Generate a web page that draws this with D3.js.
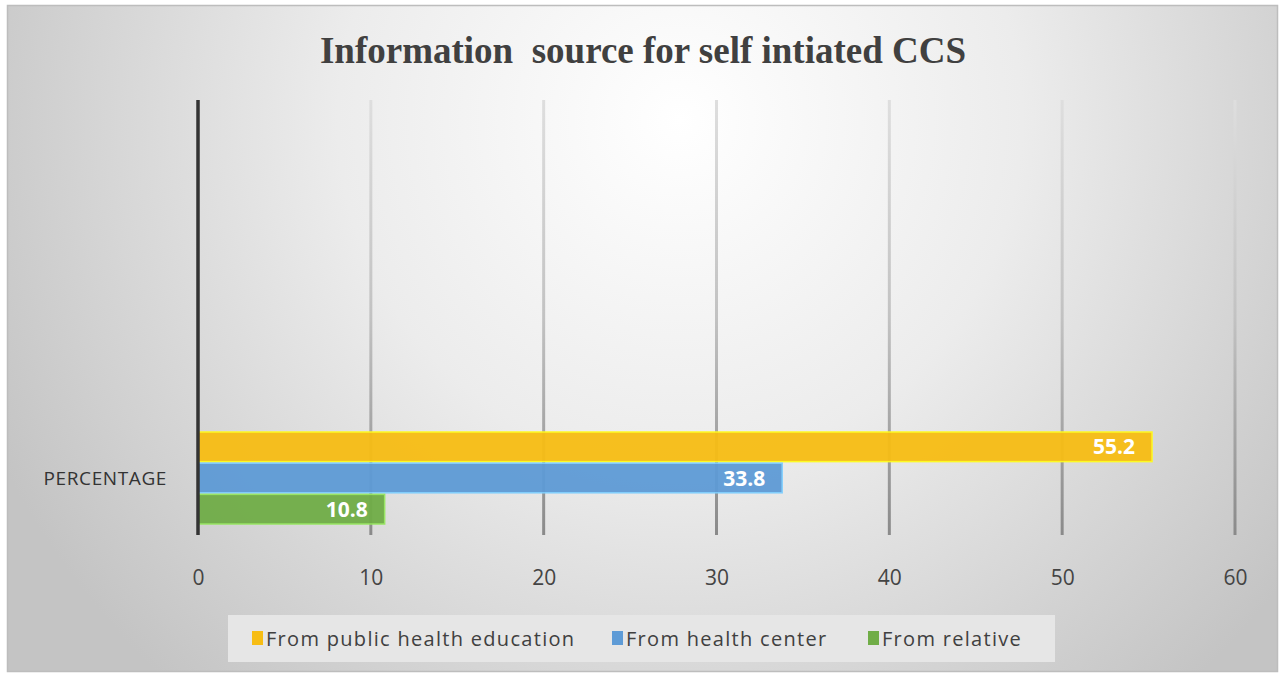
<!DOCTYPE html>
<html><head><meta charset="utf-8">
<script src="https://cdn.jsdelivr.net/npm/d3@7"></script>
<style>html,body{margin:0;padding:0;background:#fff;}svg{display:block;}</style>
</head><body>
<svg id="chart" width="1282" height="674"></svg>
<script>
const categories = ["PERCENTAGE"];
const seriesNames = ["From public health education", "From health center", "From relative"];
const seriesValues = [55.2, 33.8, 10.8];
const seriesColors = ["#f7bd14", "#5e9bd6", "#70ad47"];
const xTicks = [0, 10, 20, 30, 40, 50, 60];
const title = "Information\u00a0 source for self intiated CCS";

const svg = d3.select("#chart");
const W = 1282, H = 674;
const defs = svg.append("defs");
const rg = defs.append("radialGradient").attr("id","bg").attr("gradientUnits","userSpaceOnUse")
  .attr("cx",680).attr("cy",120).attr("r",760);
rg.append("stop").attr("offset","0").attr("stop-color","#ffffff");
rg.append("stop").attr("offset","0.45").attr("stop-color","#ececec");
rg.append("stop").attr("offset","1").attr("stop-color","#c4c4c4");
const gg = defs.append("linearGradient").attr("id","grid").attr("gradientUnits","userSpaceOnUse")
  .attr("x1",0).attr("y1",100).attr("x2",0).attr("y2",535);
gg.append("stop").attr("offset","0").attr("stop-color","#dedede");
gg.append("stop").attr("offset","0.5").attr("stop-color","#c2c2c2");
gg.append("stop").attr("offset","1").attr("stop-color","#8a8a8a");

svg.append("rect").attr("width",W).attr("height",H).attr("fill","#fff");
svg.append("rect").attr("x",7.5).attr("y",5.5).attr("width",1270).attr("height",666)
  .attr("fill","url(#bg)").attr("stroke","#bdbdbd").attr("stroke-width",1.5);

const x = d3.scaleLinear().domain([0,60]).range([198,1235]);
const y0 = d3.scaleBand().domain(categories).range([432,524]);
const y1 = d3.scaleBand().domain(seriesNames).range([y0(categories[0]), y0(categories[0])+y0.bandwidth()]).paddingInner(0.05);

svg.append("text").attr("x",643).attr("y",63).attr("text-anchor","middle")
  .attr("font-family","'Liberation Serif','Times New Roman',serif").attr("font-weight","bold")
  .attr("font-size",37).attr("fill","#404040").text(title);

// gridlines
svg.append("g").selectAll("line").data(xTicks.filter(d=>d>0)).join("line")
  .attr("x1",d=>x(d)).attr("x2",d=>x(d)).attr("y1",100).attr("y2",535)
  .attr("stroke","url(#grid)").attr("stroke-width",3);

// bars
const bars = svg.append("g");
seriesNames.forEach((s,i)=>{
  bars.append("rect").attr("x",x(0)).attr("y",y1(s)).attr("width",x(seriesValues[i])-x(0))
    .attr("height",y1.bandwidth()).attr("fill",seriesColors[i]).attr("opacity",0.95)
    .attr("stroke",d3.color(seriesColors[i]).brighter(0.8)).attr("stroke-width",1.5);
  bars.append("text").attr("x",x(seriesValues[i])-17).attr("y",y1(s)+y1.bandwidth()/2+7.5)
    .attr("text-anchor","end").attr("font-family","'Open Sans',sans-serif").attr("font-weight","bold")
    .attr("font-size",21).attr("fill","#fff").text(seriesValues[i].toFixed(1));
});

// y axis line
svg.append("line").attr("x1",x(0)).attr("x2",x(0)).attr("y1",100).attr("y2",535)
  .attr("stroke","#333").attr("stroke-width",3.5);

// category label
svg.append("text").attr("x",167).attr("y",y0(categories[0])+y0.bandwidth()/2+7)
  .attr("text-anchor","end").attr("font-family","'Open Sans',sans-serif")
  .attr("font-size",19).attr("letter-spacing",0.6).attr("fill","#333").text(categories[0]);

// x axis tick labels
const xa = svg.append("g").attr("transform","translate(0,585)")
  .call(d3.axisBottom(x).tickValues(xTicks).tickSize(0).tickPadding(0));
xa.select(".domain").remove();
xa.selectAll("text").attr("font-family","'Open Sans',sans-serif").attr("font-size",21)
  .attr("fill","#444").attr("dy","0");

// legend
const lg = svg.append("g");
lg.append("rect").attr("x",228).attr("y",615).attr("width",827).attr("height",47).attr("fill","#e6e6e6");
const legX = [252, 612, 868];
seriesNames.forEach((s,i)=>{
  lg.append("rect").attr("x",legX[i]).attr("y",631).attr("width",11).attr("height",14).attr("fill",seriesColors[i]);
  lg.append("text").attr("x",legX[i]+14).attr("y",646).attr("font-family","'Open Sans',sans-serif")
    .attr("font-size",20).attr("letter-spacing",1.3).attr("fill","#404040").text(s);
});
</script>
</body></html>
